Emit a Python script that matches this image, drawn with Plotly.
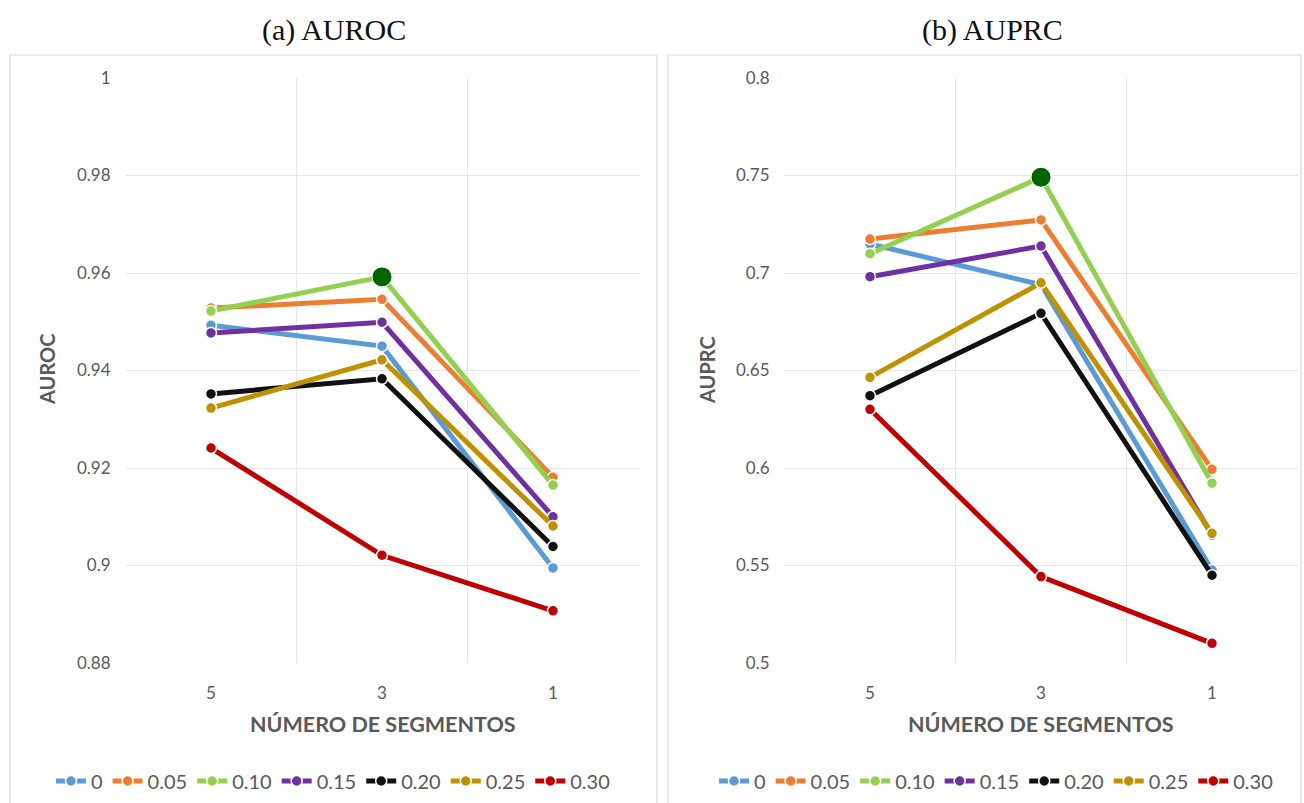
import plotly.graph_objects as go

W, H = 1304, 803

segments = ["5", "3", "1"]
series_names = ["0", "0.05", "0.10", "0.15", "0.20", "0.25", "0.30"]
colors = ["#5B9BD5", "#ED7D31", "#92D050", "#7030A0", "#111111", "#BF9000", "#C00000"]

auroc_0 = [0.9493, 0.9450, 0.8995]
auroc_005 = [0.9528, 0.9546, 0.9181]
auroc_010 = [0.9522, 0.9592, 0.9165]
auroc_015 = [0.9477, 0.9499, 0.9100]
auroc_020 = [0.9352, 0.9383, 0.9039]
auroc_025 = [0.9323, 0.9422, 0.9081]
auroc_030 = [0.9241, 0.9021, 0.8907]

auprc_0 = [0.7149, 0.6940, 0.5477]
auprc_005 = [0.7174, 0.7272, 0.5993]
auprc_010 = [0.7099, 0.7491, 0.5922]
auprc_015 = [0.6981, 0.7138, 0.5656]
auprc_020 = [0.6371, 0.6793, 0.5450]
auprc_025 = [0.6465, 0.6950, 0.5665]
auprc_030 = [0.6301, 0.5443, 0.5101]

auroc = [auroc_0, auroc_005, auroc_010, auroc_015, auroc_020, auroc_025, auroc_030]
auprc = [auprc_0, auprc_005, auprc_010, auprc_015, auprc_020, auprc_025, auprc_030]

best_auroc = ("3", 0.9592)
best_auprc = ("3", 0.7491)

panel_titles = ["(a) AUROC", "(b) AUPRC"]
y_titles = ["AUROC", "AUPRC"]
x_title = "NÚMERO DE SEGMENTOS"
auroc_ticks = [0.88, 0.9, 0.92, 0.94, 0.96, 0.98, 1]
auroc_ticktext = ["0.88", "0.9", "0.92", "0.94", "0.96", "0.98", "1"]
auprc_ticks = [0.5, 0.55, 0.6, 0.65, 0.7, 0.75, 0.8]
auprc_ticktext = ["0.5", "0.55", "0.6", "0.65", "0.7", "0.75", "0.8"]

fig = go.Figure()

TXT = "#595959"
FONT = "Lato"

for i, name in enumerate(series_names):
    fig.add_trace(go.Scatter(
        x=segments, y=auroc[i], name=name, mode="lines+markers",
        line=dict(color=colors[i], width=5),
        marker=dict(color=colors[i], size=11, line=dict(color="white", width=1.5)),
        xaxis="x", yaxis="y", legend="legend"))
fig.add_trace(go.Scatter(
    x=[best_auroc[0]], y=[best_auroc[1]], mode="markers", showlegend=False,
    marker=dict(color="#006400", size=20, line=dict(color="white", width=1)),
    xaxis="x", yaxis="y"))

for i, name in enumerate(series_names):
    fig.add_trace(go.Scatter(
        x=segments, y=auprc[i], name=name, mode="lines+markers",
        line=dict(color=colors[i], width=5),
        marker=dict(color=colors[i], size=11, line=dict(color="white", width=1.5)),
        xaxis="x2", yaxis="y2", legend="legend2"))
fig.add_trace(go.Scatter(
    x=[best_auprc[0]], y=[best_auprc[1]], mode="markers", showlegend=False,
    marker=dict(color="#006400", size=20, line=dict(color="white", width=1)),
    xaxis="x2", yaxis="y2"))

def px_x(p):
    return p / W

def px_y(p):
    return 1 - p / H

ydom = [px_y(663), px_y(78)]
xaxis_common = dict(type="category", categoryorder="array", categoryarray=segments,
                    range=[-0.5, 2.5], tickson="boundaries", showgrid=True,
                    gridcolor="#e6e6e6", gridwidth=1, zeroline=False, showline=False,
                    ticks="", tickfont=dict(family=FONT, size=17, color=TXT),
                    ticklabelstandoff=18)
yaxis_common = dict(showgrid=True, gridcolor="#e6e6e6", gridwidth=1, zeroline=False,
                    showline=False, ticks="", tickfont=dict(family=FONT, size=17, color=TXT),
                    ticklabelstandoff=14, domain=ydom)

fig.update_layout(
    width=W, height=H,
    margin=dict(l=0, r=0, t=0, b=0, autoexpand=False),
    paper_bgcolor="white", plot_bgcolor="white",
    xaxis=dict(domain=[px_x(125.5), px_x(638.5)], anchor="y", **xaxis_common),
    yaxis=dict(anchor="x", range=[0.88, 1.0], tickvals=auroc_ticks, ticktext=auroc_ticktext, **yaxis_common),
    xaxis2=dict(domain=[px_x(784.5), px_x(1297.5)], anchor="y2", **xaxis_common),
    yaxis2=dict(anchor="x2", range=[0.5, 0.8], tickvals=auprc_ticks, ticktext=auprc_ticktext, **yaxis_common),
    legend=dict(orientation="h", x=px_x(333), xanchor="center", y=px_y(781), yanchor="middle",
                font=dict(family=FONT, size=20, color=TXT), itemwidth=30,
                tracegroupgap=0, bgcolor="rgba(0,0,0,0)"),
    legend2=dict(orientation="h", x=px_x(996), xanchor="center", y=px_y(781), yanchor="middle",
                 font=dict(family=FONT, size=20, color=TXT), itemwidth=30,
                 tracegroupgap=0, bgcolor="rgba(0,0,0,0)"),
    showlegend=True,
)

shapes = [
    dict(type="rect", xref="paper", yref="paper", x0=px_x(10), x1=px_x(657),
         y0=-0.05, y1=px_y(55), line=dict(color="#d9d9d9", width=1.2), fillcolor="rgba(0,0,0,0)", layer="below"),
    dict(type="rect", xref="paper", yref="paper", x0=px_x(668), x1=px_x(1301),
         y0=-0.05, y1=px_y(55), line=dict(color="#d9d9d9", width=1.2), fillcolor="rgba(0,0,0,0)", layer="below"),
]
fig.update_layout(shapes=shapes)

annotations = [
    dict(text=panel_titles[0], x=px_x(334), y=px_y(30), xref="paper", yref="paper",
         showarrow=False, font=dict(family="Liberation Serif", size=30, color="#111111"),
         xanchor="center", yanchor="middle"),
    dict(text=panel_titles[1], x=px_x(992), y=px_y(30), xref="paper", yref="paper",
         showarrow=False, font=dict(family="Liberation Serif", size=30, color="#111111"),
         xanchor="center", yanchor="middle"),
    dict(text="<b>" + y_titles[0] + "</b>", x=px_x(47), y=px_y(370), xref="paper", yref="paper",
         showarrow=False, textangle=-90, font=dict(family=FONT, size=20, color=TXT),
         xanchor="center", yanchor="middle"),
    dict(text="<b>" + y_titles[1] + "</b>", x=px_x(707), y=px_y(370), xref="paper", yref="paper",
         showarrow=False, textangle=-90, font=dict(family=FONT, size=20, color=TXT),
         xanchor="center", yanchor="middle"),
    dict(text="<b>" + x_title + "</b>", x=px_x(383), y=px_y(724), xref="paper", yref="paper",
         showarrow=False, font=dict(family=FONT, size=21.5, color=TXT),
         xanchor="center", yanchor="middle"),
    dict(text="<b>" + x_title + "</b>", x=px_x(1041), y=px_y(724), xref="paper", yref="paper",
         showarrow=False, font=dict(family=FONT, size=21.5, color=TXT),
         xanchor="center", yanchor="middle"),
]
fig.update_layout(annotations=annotations)

fig.write_html("out.html")
